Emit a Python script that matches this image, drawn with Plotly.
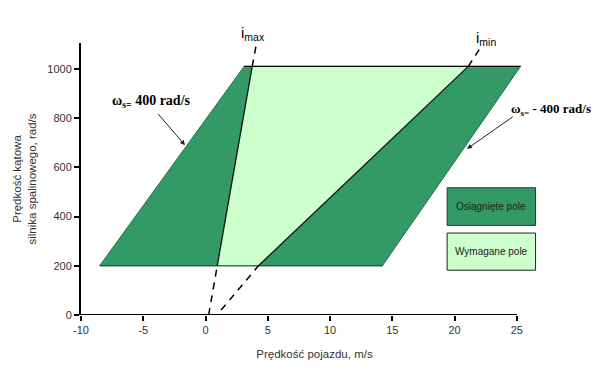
import plotly.graph_objects as go

# Engine speed levels bounding the operating field (rad/s)
omega_bounds = [200, 1010]
# Vehicle speed at the left (ws = 400 rad/s) and right (ws = -400 rad/s) edges
v_left_edge = [-8.5, 3.1]
v_right_edge = [14.2, 25.3]
# Gear-ratio lines: vehicle speed vs. engine speed
imax_v = [0.25, 0.94, 3.75, 4.1]
imax_w = [0, 200, 1010, 1105]
imin_v = [1.25, 4.25, 21.1, 22.2]
imin_w = [20, 200, 1010, 1096]

x_ticks = [-10, -5, 0, 5, 10, 15, 20, 25]
x_tick_text = ["-10", "-5", "0", "5", "10", "15", "20", "25"]
y_ticks = [0, 200, 400, 600, 800, 1000]

DARK = "#339966"
LIGHT = "#CCFFCC"

fig = go.Figure()

# Achieved field (outer parallelogram)
fig.add_trace(go.Scatter(
    x=[v_left_edge[0], v_right_edge[0], v_right_edge[1], v_left_edge[1], v_left_edge[0]],
    y=[omega_bounds[0], omega_bounds[0], omega_bounds[1], omega_bounds[1], omega_bounds[0]],
    fill="toself", fillcolor=DARK, mode="lines",
    line=dict(color="#23704a", width=1), hoverinfo="skip", showlegend=False))

# Required field between imax and imin
fig.add_trace(go.Scatter(
    x=[imax_v[1], imin_v[1], imin_v[2], imax_v[2], imax_v[1]],
    y=[imax_w[1], imin_w[1], imin_w[2], imax_w[2], imax_w[1]],
    fill="toself", fillcolor=LIGHT, mode="lines",
    line=dict(color="rgba(0,0,0,0)", width=0), hoverinfo="skip", showlegend=False))

# Top and bottom edges
fig.add_trace(go.Scatter(x=[v_left_edge[1], v_right_edge[1]], y=[omega_bounds[1]] * 2,
                         mode="lines", line=dict(color="black", width=1.2),
                         hoverinfo="skip", showlegend=False))
fig.add_trace(go.Scatter(x=[v_left_edge[0], v_right_edge[0]], y=[omega_bounds[0]] * 2,
                         mode="lines", line=dict(color="#2b4d3a", width=1.2),
                         hoverinfo="skip", showlegend=False))

# Ratio lines: solid inside the field, dashed outside
for vv, ww in ((imax_v, imax_w), (imin_v, imin_w)):
    fig.add_trace(go.Scatter(x=vv[1:3], y=ww[1:3], mode="lines",
                             line=dict(color="#111", width=1.3),
                             hoverinfo="skip", showlegend=False))
    for seg in ((0, 2), (2, 4)):
        fig.add_trace(go.Scatter(x=vv[seg[0]:seg[1]], y=ww[seg[0]:seg[1]], mode="lines",
                                 line=dict(color="black", width=1.5, dash="7px,6px"),
                                 cliponaxis=False, hoverinfo="skip", showlegend=False))

# X axis line drawn only over the labelled span
fig.add_shape(type="line", x0=x_ticks[0], x1=x_ticks[-1], y0=0, y1=0,
              xref="x", yref="y", line=dict(color="black", width=2))

# Key boxes
fig.add_shape(type="rect", x0=19.4, x1=26.5, y0=364, y1=517, xref="x", yref="y",
              fillcolor=DARK, line=dict(color="#333", width=1))
fig.add_shape(type="rect", x0=19.4, x1=26.5, y0=182, y1=333, xref="x", yref="y",
              fillcolor=LIGHT, line=dict(color="#222", width=1))

sans = "Liberation Sans, Arial, sans-serif"
serif = "Liberation Serif, Times New Roman, serif"

annotations = [
    dict(x=22.95, y=440, text="Osiągnięte pole", showarrow=False,
         font=dict(family=sans, size=10, color="#222")),
    dict(x=22.95, y=258, text="Wymagane pole", showarrow=False,
         font=dict(family=sans, size=10, color="#222")),
    dict(x=0.368, y=1.078, xref="paper", yref="paper", text="i<sub>max</sub>",
         showarrow=False, font=dict(family=sans, size=15, color="black")),
    dict(x=0.893, y=1.058, xref="paper", yref="paper", text="i<sub>min</sub>",
         showarrow=False, font=dict(family=sans, size=15, color="black")),
    dict(x=-1.65, y=690, ax=-3.9, ay=822, axref="x", ayref="y",
         text="", showarrow=True, arrowhead=2, arrowsize=1, arrowwidth=1, arrowcolor="#222"),
    dict(x=-4.3, y=868, text="<b>ω<sub>s=</sub> 400 rad/s</b>", showarrow=False,
         font=dict(family=serif, size=14, color="black")),
    dict(x=21.0, y=675, ax=24.8, ay=810, axref="x", ayref="y",
         text="", showarrow=True, arrowhead=2, arrowsize=1, arrowwidth=1, arrowcolor="#222"),
    dict(x=0.917, y=0.793, xref="paper", yref="paper", xanchor="left",
         text="<b>ω<sub>s=</sub> - 400 rad/s</b>", showarrow=False,
         font=dict(family=serif, size=13, color="black")),
]

fig.update_layout(
    width=598, height=370,
    margin=dict(l=81, r=50, t=43, b=52),
    paper_bgcolor="white", plot_bgcolor="white",
    annotations=annotations,
    xaxis=dict(range=[-10, 27.5], tickvals=x_ticks, ticktext=x_tick_text,
               ticks="outside", ticklen=5,
               tickwidth=1.5, tickcolor="black", showgrid=False, zeroline=False,
               showline=False,
               tickfont=dict(family=sans, size=11, color="#333"),
               title=dict(text="Prędkość pojazdu, m/s", standoff=14,
                          font=dict(family=sans, size=11.5, color="#333"))),
    yaxis=dict(range=[0, 1105], tickvals=y_ticks, ticks="outside", ticklen=5,
               tickwidth=1.5, tickcolor="black", showgrid=False, zeroline=False,
               showline=True, linecolor="black", linewidth=2,
               tickfont=dict(family=sans, size=11, color="#333"),
               title=dict(text="Prędkość kątowa<br>silnika spalinowego, rad/s", standoff=8,
                          font=dict(family=sans, size=11.5, color="#333"))),
)

fig.write_html("out.html")
